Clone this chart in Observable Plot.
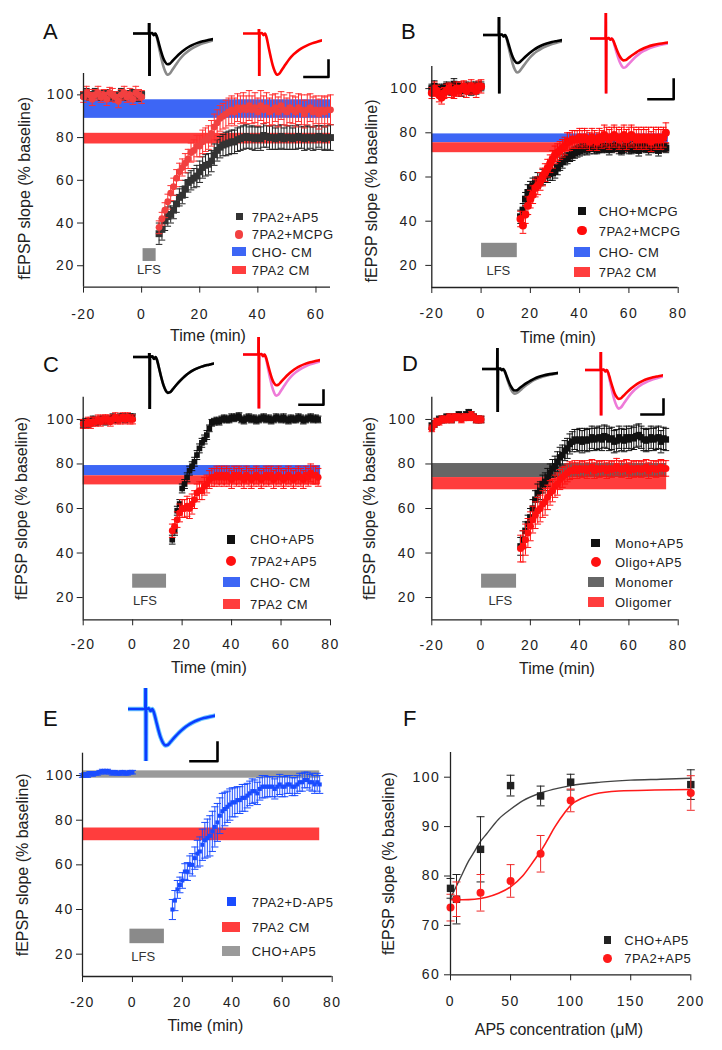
<!DOCTYPE html>
<html><head><meta charset="utf-8">
<script src="https://cdn.jsdelivr.net/npm/d3@7"></script>
<script src="https://cdn.jsdelivr.net/npm/@observablehq/plot@0.6"></script>
<style>
body{margin:0;background:#fff;}
#root{position:relative;width:722px;height:1050px;overflow:hidden;background:#fff;font-family:"Liberation Sans",Arial,Helvetica,sans-serif;color:#222;}
.letter{position:absolute;font-size:22px;line-height:22px;color:#111;}
.lg-text{position:absolute;font-size:13px;line-height:15px;letter-spacing:0.5px;color:#222;white-space:nowrap;}
svg [aria-label^="x-axis"] text, svg [aria-label^="y-axis"] text{letter-spacing:1.5px;}
</style></head><body><div id="root"></div>
<script>
// ---------------- DATA ----------------
const timeBase = [-20,-19,-18,-17,-16,-15,-14,-13,-12,-11,-10,-9,-8,-7,-6,-5,-4,-3,-2,-1,0];
const timePostA = [6,7,8,9,10,11,12,13,14,15,16,17,18,19,20,21,22,23,24,25,26,27,28,29,30,31,32,33,34,35,36,37,38,39,40,41,42,43,44,45,46,47,48,49,50,51,52,53,54,55,56,57,58,59,60,61,62,63,64,65];
const timePost = [16,17,18,19,20,21,22,23,24,25,26,27,28,29,30,31,32,33,34,35,36,37,38,39,40,41,42,43,44,45,46,47,48,49,50,51,52,53,54,55,56,57,58,59,60,61,62,63,64,65,66,67,68,69,70,71,72,73,74,75];

// Panel A
const aAp5Base = [100,101,99,100,101,100,99,100,101,100,99,100,100,101,99,100,100,101,100,99,100];
const aAp5BaseErr = [1.5,2,1.5,1.5,2,1.5,1.5,2,1.5,1.5,2,1.5,1.5,2,1.5,1.5,2,1.5,1.5,2,1.5];
const aMcpgBase = [99,101,100,98,100,101,99,100,98,101,100,99,97,100,101,99,100,98,101,100,99];
const aMcpgBaseErr = [2.5,3,2.5,3,2.5,3,2.5,2.5,3,2.5,3,2.5,3,2.5,3,2.5,3,2.5,3,2.5,3];
const aAp5Post = [35,37,41,43,44,46,49,52,53,56, 59,60,61,62,64,66,67,67.5,69,72, 74,75.5,76.5,77,77.5,78,78,79,79.5,80, 80.5,80,80,79.5,80,79.5,81,80.5,80,80, 79.5,80,80.5,79.5,80,80,79.5,80,80.5,80, 79.5,80,80,79.5,80,80.5,80,79.5,80,80];
const aAp5PostErr = [5,5,4.5,4.5,4,4,4,4,4,4, 4.5,4.5,4.5,5,5,5,5,5,5,5, 5,5,5,5.5,5.5,5.5,5.5,5.5,5.5,5.5, 5.5,5,5.5,5.5,5,5.5,5.5,5,5.5,5.5, 5,5.5,5.5,5,5.5,5.5,5,5.5,5.5,5, 5.5,5.5,5,5.5,5.5,5,5.5,5.5,5.5,6];
const aMcpgPost = [38,42,46,50,54,57,61,64,66,68, 70,73,74,76,76,78,79,80,82,85, 87,89,90,91,92,93,92,94,93,94, 93,95,93,94,92,95,93,94,92,93, 94,92,95,93,92,94,93,92,94,93, 91,93,94,92,93,91,93,92,93,93];
const aMcpgPostErr = [3,3,3.5,3.5,3.5,4,4,4,4,4.5, 4.5,4.5,5,5,5,5.5,5.5,5.5,6,6, 6,6,6,6.5,6.5,6.5,6.5,6.5,6.5,7, 6.5,7,6.5,7,6.5,7,6.5,7,6.5,7, 6.5,7,6.5,7,6.5,7,6.5,7,6.5,7, 6.5,7,6.5,7,6.5,7,6.5,7,6.5,7];

// Panel B
const bChoBase = [100,101,99,100,99,100,101,100,99,102,100,101,99,100,101,100,99,101,100,101,101];
const bChoBaseErr = [2,2.5,2,2,2.5,2,2,2.5,2,2.5,2,2,2.5,2,2,2.5,2,2,2.5,2,2];
const b7pa2Base = [98,100,99,97,96,98,99,100,99,98,100,99,100,101,99,100,101,100,99,101,101];
const b7pa2BaseErr = [2.5,3,2.5,3,3,2.5,3,2.5,3,2.5,3,2.5,3,2.5,3,2.5,3,2.5,3,2.5,3];
const bChoPost = [42,45,50,53,55,56,57,58.5,59,60, 60.5,61,61.5,62,62.5,64,66,67,68,68.5, 69.5,70,71,71.5,72,72.5,73,72.5,73,74, 73,72.5,73.5,73,74,73,72.5,73,74,73.5, 73,72,73.5,74,73,72.5,73.5,73,72,73.5, 74,73,72.5,73,74,73,72,73.5,74,73];
const bChoPostErr = [3,3,3,3.5,3,3.5,3,3.5,3,3.5, 3,3.5,3,3.5,3,3,3,3,2.5,2.5, 2.5,2.5,2.5,2.5,2.5,2.5,2.5,2.5,2.5,2.5, 2.5,2,2.5,2,2.5,2,2.5,2,2.5,2, 2.5,2,2.5,2,2.5,2,2.5,2,2.5,2, 2.5,2,2.5,2,2.5,2,2.5,2,2.5,2];
const b7pa2Post = [41,38,43,47,50,52,55,56,58,60, 62,64,66,68,70,71,72,73,74,76, 76,77,77,77,78,77,78,77,76,78, 77,76,78,77,79,78,77,78,79,78, 77,78,79,77,78,79,78,77,78,77, 78,77,78,76,78,77,78,77,78,80];
const b7pa2PostErr = [3.5,3.5,4,4,4,4,4,4,4,4, 4,4,4,4,4,4,4,4,4,4, 4,4,4,4,4,4,4,4,4,4, 4,4,4,4,4.5,4.5,4.5,4.5,4.5,4.5, 4.5,4.5,4.5,4.5,4.5,4.5,4.5,4.5,4.5,4.5, 4.5,4.5,4.5,4.5,4.5,4.5,4.5,4.5,4.5,4.5];

// Panel C
const cChoBase = [98,99,98,99,100,99,99,100,100,99,100,100,101,100,100,101,101,100,101,101,101];
const cChoBaseErr = [1.5,1.5,1.5,1.5,1.5,1.5,1.5,1.5,1.5,1.5,1.5,1.5,1.5,1.5,1.5,1.5,1.5,1.5,1.5,1.5,1.5];
const c7pa2Base = [98,98,99,98,99,99,100,99,100,100,100,99,100,101,100,100,101,100,101,100,100];
const c7pa2BaseErr = [2,2,2,2,2,2,2,2,2,2,2,2,2,2,2,2,2,2,2,2,2];
const cChoPost = [46,50,59,62,69,71,74,77,79,81, 84,87,89.5,91,93,96,98.5,99,99.5,99, 100,100.5,100,100,101,100.5,101,101.5,100,99.5, 100.5,101,100,100.5,99.5,100,100.5,101,100,100.5, 99.5,100,101,100.5,100,101,100,99.5,100.5,100, 100,101,100.5,99.5,100,100.5,101,100,100.5,100];
const cChoPostErr = [2,2,2,2,2,2,2,2,2,2, 2,2,2,2,2,1.5,1.5,1.5,1.5,1.5, 1.5,1.5,1.5,1.5,1.5,1.5,1.5,1.5,1.5,1.5, 1.5,1.5,1.5,1.5,1.5,1.5,1.5,1.5,1.5,1.5, 1.5,1.5,1.5,1.5,1.5,1.5,1.5,1.5,1.5,1.5, 1.5,1.5,1.5,1.5,1.5,1.5,1.5,1.5,1.5,1.5];
const c7pa2Post = [50,52,55,58,60,60,61,60,62,64, 67,68,68,70,71,73,74,74,75,74, 75,74,75,74,73,75,74,75,74,73, 75,74,73,74,75,74,73,74,75,74, 75,73,74,75,74,73,74,75,74,73, 74,75,74,73,75,74,76,75,75,74];
const c7pa2PostErr = [3,3,3.5,4,4,4,4.5,4.5,4.5,4, 4,4,4,4,4,4,4,4,4,4, 4,4,4,4,4,4,4,4,4,4, 4,4,4,4,4,4,4,4,4,4, 4,4,4,4,4,4,4,4,4,4, 4,4,4,4,4,4,4,4,4,4];

// Panel D
const dMonoBase = [97,98,99,100,100,100,101,101,100,101,101,102,101,101,102,103,102,101,100,100,100];
const dMonoBaseErr = [1.5,1.5,1.5,1.5,1.5,1.5,1.5,1.5,1.5,1.5,1.5,1.5,1.5,1.5,1.5,1.5,1.5,1.5,1.5,1.5,1.5];
const dOligoBase = [96,98,99,99,100,100,100,101,100,101,101,101,100,101,101,101,102,101,100,100,100];
const dOligoBaseErr = [1.5,1.5,1.5,1.5,1.5,1.5,1.5,1.5,1.5,1.5,1.5,1.5,1.5,1.5,1.5,1.5,1.5,1.5,1.5,1.5,1.5];
const dMonoPost = [43,46,50,53,56,60,64,67,68,71, 72,74,76,78,79,81,83,84,86,87, 89,90,91,90.5,91,90,91,90.5,91,92, 91,91.5,92,91,92.5,92,91,91.5,90,90.5, 92,91,90.5,92,91,92,91.5,92.5,93,92, 91,90.5,91,92,91,91.5,92,90,91.5,91];
const dMonoPostErr = [4,4,4,4,4,4,4,4,4,4, 4,4,4,4,4.5,4.5,4.5,4.5,4.5,4.5, 4.5,4.5,4.5,5,5,5,5,5,5,5, 5,5,5,5,5,5,5,5,5,5, 5,5,5,5,5,5,5,5,5,5, 5,5,5,5,5,5,5,5,5,5];
const dOligoPost = [42,43,46,49,52,55,57,59,60,62, 63,65,67,68,70,71,73,74,75,76, 77,77,78,77,78,77.5,78,77,78,78.5, 77,78,77.5,78,78,77,78,77.5,78,79, 78,77.5,78,78.5,77,78,77.5,78,78,77.5, 78,78.5,77,78,78,77.5,78,78.5,78,78];
const dOligoPostErr = [6,7,7,6.5,6.5,6,6,6,6,6, 6,5.5,5.5,5,5,5,4.5,4.5,4,4, 4,3.5,3.5,3.5,3.5,3.5,3.5,3.5,3.5,3.5, 3.5,3.5,3.5,3.5,3.5,3.5,3.5,3.5,3.5,3.5, 3.5,3.5,3.5,3.5,3.5,3.5,3.5,3.5,3.5,3.5, 3.5,3.5,3.5,3.5,3.5,3.5,3.5,3.5,3.5,3.5];

// Panel E
const eBase = [100,100.5,100,101,100.5,101,101,101.5,102,101.5,102,101.5,101,101.5,101,101,101.5,101,101,101.5,101.5];
const eBaseErr = [0.8,0.8,0.8,0.8,0.8,0.8,0.8,0.8,0.8,0.8,0.8,0.8,0.8,0.8,0.8,0.8,0.8,0.8,0.8,0.8,0.8];
const ePost = [40,44,49,51,53,57,57,60,60,63, 65,66,69,71,72,73,75,77,79,82, 84,85,86,87,88,88,89,89,90,90, 91,92,93,93,92,94,95,95,95,95, 95,94,95,96,95,95,96,96,95,95, 96,97,97,98,98,97,97,96,97,96];
const ePostErr = [4.5,4.5,4,3.5,3.5,3.5,4,4,5,5, 6,6.5,7,8,8.5,9,9,9,8.5,8, 8,7.5,7,7,6.5,6.5,6,6,6,6, 5.5,5.5,5.5,5,5,5,5,5,4.5,4.5, 4.5,4.5,4.5,4.5,4.5,4.5,4,4,4,4, 4,4,4,3.5,3.5,3.5,4,4,4,4];

// Panel F
const fConc = [0,5,25,50,75,100,200];
const fChoMean = [77.5,75.3,85.4,98.3,96.2,99,98.5];
const fChoErr = [2,5,6.6,2.1,2,1.6,3];
const f7pa2Mean = [73.6,75.3,76.6,79,84.5,95.3,96.8];
const f7pa2Err = [2.7,3.5,3.7,3.3,3.7,2.3,3.5];
const fitChoConc = [0,5,10,15,20,25,30,40,50,60,75,90,100,125,150,175,200];
const fitChoVal = [75.5,78,80.5,83,85,87,88.5,91.5,93.5,95.2,96.8,97.8,98.3,99,99.4,99.6,99.8];
const fit7pa2Conc = [0,10,20,30,40,50,60,70,75,80,87,95,100,110,120,140,170,200];
const fit7pa2Val = [75.2,75.2,75.3,75.7,76.5,77.8,80,83.3,85,87,90,92.8,94.3,95.8,96.6,97.2,97.4,97.5];

// Bands (mean level ranges of conditioned-medium controls) and LFS periods
const bandLabelsA = ["CHO- CM","7PA2 CM"], bandLoA = [89,77], bandHiA = [97.7,82], bandEndA = 65;
const bandLabelsB = ["CHO- CM","7PA2 CM"], bandLoB = [75.5,71], bandHiB = [79.5,75.5], bandEndB = 76;
const bandLabelsC = ["CHO- CM","7PA2 CM"], bandLoC = [74.7,70.6], bandHiC = [79.3,74.7], bandEndC = 76;
const bandLabelsD = ["Monomer","Oligomer"], bandLoD = [73.9,68.4], bandHiD = [80.2,73.9], bandEndD = 75.3;
const bandLabelsE = ["CHO+AP5","7PA2 CM"], bandLoE = [98.8,70.8], bandHiE = [102.1,76.5], bandEndE = 75;
const lfsStart = [0.5,0.2,0,0.2,-1], lfsEnd = [5,14.7,13.7,14.4,12.8], lfsLo = [22,23.5,24.2,24.2,24.7], lfsHi = [28,30,30.5,30.5,31.2];
const lfsTextT = [2.5,7,5,7.8,4.3], lfsTextY = [18,17.4,18.5,18.5,18.8];

// Tick labels
const xTicksA = [-20,0,20,40,60];
const xTicksTime = [-20,0,20,40,60,80];
const yTicksTime = [20,40,60,80,100];
const xTicksF = [0,50,100,150,200];
const yTicksF = [60,70,80,90,100];

// Inset fEPSP waveforms (time units, relative amplitude)
const traceTime = [0,5.8,5.9,6.0,6.1,7.0,7.6,8.2,8.8,9.5,10.3,11.1,11.9,12.7,13.6,14.6,16,17.5,19,20.5,22,24,26,28,30];
const traceSmall = [0,0,4,-8,0,0.05,-0.15,0.0,-0.3,-0.9,-1.6,-2.2,-2.6,-2.8,-2.75,-2.5,-2.15,-1.8,-1.5,-1.25,-1.05,-0.85,-0.7,-0.6,-0.5];
const traceMid = [0,0,4,-8,0,0.05,-0.15,0.0,-0.35,-1.05,-1.85,-2.55,-3.0,-3.2,-3.1,-2.85,-2.45,-2.05,-1.7,-1.42,-1.2,-0.98,-0.8,-0.68,-0.56];
const traceLarge = [0,0,4,-8,0,0.05,-0.15,0.0,-0.4,-1.2,-2.1,-2.9,-3.45,-3.75,-3.65,-3.3,-2.8,-2.3,-1.9,-1.6,-1.35,-1.1,-0.9,-0.75,-0.62];
const scaleBarX = [0,1,1];
const scaleBarY = [0,0,1];

// ---------------- DRAWING ----------------
const FONT = '"Liberation Sans", Arial, Helvetica, sans-serif';
const root = document.getElementById("root");
const BLUE = "#3d66f5", REDBAND = "#ff3d3d", GRAYBAND = "#666666", LIGHTBAND = "#9a9a9a", LFSGRAY = "#8a8a8a";

function place(el, left, top) {
  el.style.position = "absolute"; el.style.left = left + "px"; el.style.top = top + "px";
  root.appendChild(el);
}
const hbar = {draw(ctx, size) { const w = Math.sqrt(size / Math.PI); ctx.moveTo(-w, 0); ctx.lineTo(w, 0); }};
function rows(times, vals, errs) { return times.map((t, i) => ({t, v: vals[i], e: errs ? errs[i] : 0})); }

function seriesMarks(data, s) {
  const bc = s.barColor || s.color;
  return [
    Plot.ruleX(data, {x: "t", y1: d => d.v - d.e, y2: d => d.v + d.e, stroke: bc, strokeWidth: 1}),
    Plot.dot(data, {x: "t", y: d => d.v + d.e, symbol: hbar, r: s.cap, stroke: bc, strokeWidth: 1, fill: "none"}),
    Plot.dot(data, {x: "t", y: d => d.v - d.e, symbol: hbar, r: s.cap, stroke: bc, strokeWidth: 1, fill: "none"}),
    Plot.dot(data, {x: "t", y: "v", symbol: s.symbol, r: s.r, fill: s.color, stroke: "none"})
  ];
}

function panel(cfg) {
  const g = cfg.geom;
  const marks = [];
  if (cfg.bands) cfg.bands.forEach(b => marks.push(Plot.rect([b], {x1: d => d.x1, x2: d => d.x2, y1: d => d.lo, y2: d => d.hi, fill: b.color})));
  if (cfg.lfs) {
    marks.push(Plot.rect([cfg.lfs], {x1: d => d.x1, x2: d => d.x2, y1: d => d.lo, y2: d => d.hi, fill: LFSGRAY}));
    marks.push(Plot.text([cfg.lfs], {x: d => d.tx, y: d => d.ty, text: () => "LFS", fontSize: 13, fill: "#333"}));
  }
  if (cfg.lines) cfg.lines.forEach(l => marks.push(Plot.line(l.data, {x: "t", y: "v", stroke: l.color, strokeWidth: l.width, curve: "monotone-x"})));
  cfg.series.forEach(s => s.parts.forEach(p => marks.push(...seriesMarks(p, s))));
  marks.push(Plot.ruleX([cfg.xDomain[0]], {stroke: "#222", strokeWidth: 1.3}));
  marks.push(Plot.ruleY([cfg.yDomain[0]], {stroke: "#222", strokeWidth: 1.3}));
  marks.push(Plot.text([cfg.xLabel], {frameAnchor: "bottom", dy: g.xlDy, dx: g.xlDx, fontSize: 16, lineAnchor: "middle", textAnchor: "middle", fill: "#222"}));
  marks.push(Plot.text([cfg.yLabel], {frameAnchor: "left", rotate: -90, dx: g.ylDx, dy: g.ylDy, fontSize: 16, lineAnchor: "middle", textAnchor: "middle", fill: "#222"}));
  const svg = Plot.plot({
    width: g.w, height: g.h, marginLeft: g.mL, marginRight: g.mR, marginTop: g.mT, marginBottom: g.mB,
    x: {domain: cfg.xDomain, ticks: cfg.xTicks, tickSize: 6, tickPadding: g.xPad, tickFormat: d => String(d), label: null},
    y: {domain: cfg.yDomain, ticks: cfg.yTicks, tickSize: 6, tickPadding: g.yPad, tickFormat: d => String(d), label: null},
    style: {background: "transparent", fontFamily: FONT, fontSize: "14px", color: "#222", overflow: "visible"},
    marks
  });
  place(svg, g.left, g.top);
}

function bandsOf(lows, highs, end, colors) { return lows.map((lo, i) => ({x1: -20, x2: end, lo, hi: highs[i], color: colors[i]})); }
function lfsOf(i) { return {x1: lfsStart[i], x2: lfsEnd[i], lo: lfsLo[i], hi: lfsHi[i], tx: lfsTextT[i], ty: lfsTextY[i]}; }

function tracePlot(sp) {
  const yDomain = [-(sp.bottom - sp.y0) / sp.k, (sp.y0 - sp.top) / sp.k];
  const svg = Plot.plot({
    width: sp.x1 - sp.x0, height: sp.bottom - sp.top, margin: 0,
    x: {domain: [0, 30], axis: null}, y: {domain: yDomain, axis: null},
    style: {background: "transparent", overflow: "visible"},
    marks: sp.series.map(s => Plot.line(rows(traceTime, s.values), {x: "t", y: "v", stroke: s.color, strokeWidth: s.width || 2.6, curve: "monotone-x", clip: true}))
  });
  place(svg, sp.x0, sp.top);
}
function scaleBar(sb) {
  const pts = scaleBarX.map((x, i) => ({x, y: scaleBarY[i]}));
  const svg = Plot.plot({
    width: sb.x - sb.left, height: sb.bottom - sb.top, margin: 0,
    x: {domain: [0, 1], axis: null}, y: {domain: [0, 1], axis: null},
    style: {background: "transparent", overflow: "visible"},
    marks: [Plot.line(pts, {x: "x", y: "y", stroke: "#000", strokeWidth: 2.6, strokeLinecap: "square"})]
  });
  place(svg, sb.left, sb.top);
}
function legend(items, o) {
  items.forEach((it, i) => {
    const y = o.rowsY[i];
    let w, h, radius = "0";
    if (it.kind === "square") { w = h = o.sq; }
    else if (it.kind === "circle") { w = h = o.circ; radius = "50%"; }
    else { w = o.barW; h = o.barH; }
    const sw = document.createElement("div");
    sw.style.cssText = `position:absolute;left:${o.cx - w / 2}px;top:${y - h / 2}px;width:${w}px;height:${h}px;background:${it.color};border-radius:${radius}`;
    root.appendChild(sw);
    const tx = document.createElement("div");
    tx.className = "lg-text"; tx.textContent = it.label;
    tx.style.left = o.textLeft + "px"; tx.style.top = (y - 7.1) + "px";
    root.appendChild(tx);
  });
}
function letter(ch, x, baseline) {
  const d = document.createElement("div");
  d.className = "letter"; d.textContent = ch;
  d.style.left = x + "px"; d.style.top = (baseline - 18.6) + "px";
  root.appendChild(d);
}

const yLab = "fEPSP slope (% baseline)";
const xLab = "Time (min)";

// Panel A
panel({
  geom: {left: 0, top: 0, w: 361, h: 340, mL: 83, mR: 31, mT: 73, mB: 53.4, xPad: 15.5, yPad: 2.8, xlDy: 48.5, xlDx: 1, ylDx: -59, ylDy: 8},
  xDomain: [-20, 65], yDomain: [10, 110], xTicks: xTicksA, yTicks: yTicksTime, xLabel: xLab, yLabel: yLab,
  bands: bandsOf(bandLoA, bandHiA, bandEndA, [BLUE, REDBAND]), lfs: lfsOf(0),
  series: [
    {parts: [rows(timeBase, aAp5Base, aAp5BaseErr), rows(timePostA, aAp5Post, aAp5PostErr)], color: "#333", barColor: "#222", symbol: "square", r: 3.9, cap: 3.3},
    {parts: [rows(timeBase, aMcpgBase, aMcpgBaseErr), rows(timePostA, aMcpgPost, aMcpgPostErr)], color: "#f24040", barColor: "#ff3030", symbol: "circle", r: 3.4, cap: 3.3}
  ]
});
// Panel B
panel({
  geom: {left: 361, top: 0, w: 361, h: 340, mL: 70.3, mR: 44.3, mT: 66, mB: 53, xPad: 15, yPad: 7.8, xlDy: 50, xlDx: 3, ylDx: -59.5, ylDy: 14},
  xDomain: [-20, 80], yDomain: [10, 110], xTicks: xTicksTime, yTicks: yTicksTime, xLabel: xLab, yLabel: yLab,
  bands: bandsOf(bandLoB, bandHiB, bandEndB, [BLUE, REDBAND]), lfs: lfsOf(1),
  series: [
    {parts: [rows(timeBase, bChoBase, bChoBaseErr), rows(timePost, bChoPost, bChoPostErr)], color: "#111", symbol: "square", r: 3.9, cap: 3.3},
    {parts: [rows(timeBase, b7pa2Base, b7pa2BaseErr), rows(timePost, b7pa2Post, b7pa2PostErr)], color: "#ff0a0a", symbol: "circle", r: 4, cap: 3.3}
  ]
});
// Panel C
panel({
  geom: {left: 0, top: 340, w: 361, h: 350, mL: 82.7, mR: 31, mT: 56.7, mB: 70.7, xPad: 13, yPad: 2.5, xlDy: 48, xlDx: 2, ylDx: -61.7, ylDy: 0},
  xDomain: [-20, 80], yDomain: [10, 110], xTicks: xTicksTime, yTicks: yTicksTime, xLabel: xLab, yLabel: yLab,
  bands: bandsOf(bandLoC, bandHiC, bandEndC, [BLUE, REDBAND]), lfs: lfsOf(2),
  series: [
    {parts: [rows(timeBase, cChoBase, cChoBaseErr), rows(timePost, cChoPost, cChoPostErr)], color: "#111", symbol: "square", r: 3.2, cap: 3.3},
    {parts: [rows(timeBase, c7pa2Base, c7pa2BaseErr), rows(timePost, c7pa2Post, c7pa2PostErr)], color: "#ff1010", symbol: "circle", r: 3.4, cap: 3.3}
  ]
});
// Panel D
panel({
  geom: {left: 361, top: 340, w: 361, h: 350, mL: 70.3, mR: 44.3, mT: 56.7, mB: 70.7, xPad: 14.5, yPad: 9.5, xlDy: 48.7, xlDx: 2, ylDx: -62.3, ylDy: 0},
  xDomain: [-20, 80], yDomain: [10, 110], xTicks: xTicksTime, yTicks: yTicksTime, xLabel: xLab, yLabel: yLab,
  bands: bandsOf(bandLoD, bandHiD, bandEndD, [GRAYBAND, REDBAND]), lfs: lfsOf(3),
  series: [
    {parts: [rows(timeBase, dMonoBase, dMonoBaseErr), rows(timePost, dMonoPost, dMonoPostErr)], color: "#111", symbol: "square", r: 3.6, cap: 3.3},
    {parts: [rows(timeBase, dOligoBase, dOligoBaseErr), rows(timePost, dOligoPost, dOligoPostErr)], color: "#ff1010", symbol: "circle", r: 3.5, cap: 3.3}
  ]
});
// Panel E
panel({
  geom: {left: 0, top: 690, w: 361, h: 360, mL: 82, mR: 29.3, mT: 62.7, mB: 74, xPad: 14.5, yPad: 2.8, xlDy: 49, xlDx: -2, ylDx: -59.5, ylDy: 0},
  xDomain: [-20, 80], yDomain: [10, 110], xTicks: xTicksTime, yTicks: yTicksTime, xLabel: xLab, yLabel: yLab,
  bands: bandsOf(bandLoE, bandHiE, bandEndE, [LIGHTBAND, REDBAND]), lfs: lfsOf(4),
  series: [
    {parts: [rows(timeBase, eBase, eBaseErr), rows(timePost, ePost, ePostErr)], color: "#1a4cff", symbol: "square", r: 2.3, cap: 3.6}
  ]
});
// Panel F
panel({
  geom: {left: 361, top: 690, w: 361, h: 360, mL: 89, mR: 31.7, mT: 62, mB: 75.7, xPad: 15.5, yPad: 4.2, xlDy: 54.7, xlDx: -11.7, ylDx: -62, ylDy: 0},
  xDomain: [0, 200], yDomain: [60, 105], xTicks: xTicksF, yTicks: yTicksF, xLabel: "AP5 concentration (\u03BCM)", yLabel: yLab,
  lines: [
    {data: rows(fitChoConc, fitChoVal), color: "#444", width: 1.4},
    {data: rows(fit7pa2Conc, fit7pa2Val), color: "#ff1a1a", width: 1.6}
  ],
  series: [
    {parts: [rows(fConc, fChoMean, fChoErr)], color: "#222", symbol: "square", r: 4.2, cap: 4},
    {parts: [rows(fConc, f7pa2Mean, f7pa2Err)], color: "#ff1a1a", barColor: "#ee2a2a", symbol: "circle", r: 4, cap: 4}
  ]
});

// Inset traces
tracePlot({x0: 133, x1: 213, y0: 33, top: 23, bottom: 76, k: 11, series: [{values: traceLarge, color: "#8a8a8a"}, {values: traceSmall, color: "#000"}]});
tracePlot({x0: 243, x1: 322, y0: 33, top: 29, bottom: 76, k: 11, series: [{values: traceLarge, color: "#ff0000"}]});
tracePlot({x0: 483, x1: 562, y0: 34, top: 16.5, bottom: 93, k: 10, series: [{values: traceLarge, color: "#8a8a8a"}, {values: traceSmall, color: "#000"}]});
tracePlot({x0: 590, x1: 668, y0: 38, top: 13, bottom: 93.5, k: 7.8, series: [{values: traceLarge, color: "#ee7ad8"}, {values: traceSmall, color: "#ff0000"}]});
tracePlot({x0: 133, x1: 214, y0: 356.5, top: 353, bottom: 409, k: 12.8, series: [{values: traceSmall, color: "#8a8a8a"}, {values: traceSmall, color: "#000"}]});
tracePlot({x0: 243, x1: 320, y0: 354, top: 337, bottom: 408.5, k: 11, series: [{values: traceLarge, color: "#ee7ad8"}, {values: traceSmall, color: "#ff0000"}]});
tracePlot({x0: 482, x1: 558, y0: 368.5, top: 348, bottom: 412, k: 7.7, series: [{values: traceMid, color: "#8a8a8a"}, {values: traceSmall, color: "#000"}]});
tracePlot({x0: 585, x1: 663, y0: 369, top: 351.5, bottom: 415, k: 10.3, series: [{values: traceLarge, color: "#ee7ad8"}, {values: traceSmall, color: "#ff0000"}]});
tracePlot({x0: 128, x1: 215, y0: 708.5, top: 688, bottom: 761, k: 13, series: [{values: traceSmall, color: "#6cc8ff", width: 4.5}, {values: traceSmall, color: "#0a3cff", width: 2.6}]});

// Scale bars
scaleBar({x: 328, top: 60, bottom: 76.5, left: 304});
scaleBar({x: 673.5, top: 78.5, bottom: 98.3, left: 648.3});
scaleBar({x: 323.3, top: 390, bottom: 404.3, left: 299.3});
scaleBar({x: 662.5, top: 399, bottom: 414, left: 640.5});
scaleBar({x: 217, top: 741.7, bottom: 760.5, left: 190});

// Legends
legend([
  {label: "7PA2+AP5", kind: "square", color: "#333"},
  {label: "7PA2+MCPG", kind: "circle", color: "#f24040"},
  {label: bandLabelsA[0], kind: "bar", color: BLUE},
  {label: bandLabelsA[1], kind: "bar", color: REDBAND}
], {cx: 239, textLeft: 251.7, rowsY: [216.7, 234.3, 251.7, 270], sq: 7, circ: 8.5, barW: 14, barH: 8.5});
legend([
  {label: "CHO+MCPG", kind: "square", color: "#111"},
  {label: "7PA2+MCPG", kind: "circle", color: "#ff0a0a"},
  {label: bandLabelsB[0], kind: "bar", color: BLUE},
  {label: bandLabelsB[1], kind: "bar", color: REDBAND}
], {cx: 582, textLeft: 598.7, rowsY: [210.7, 230.7, 251.7, 271.7], sq: 8, circ: 9.5, barW: 16, barH: 10});
legend([
  {label: "CHO+AP5", kind: "square", color: "#111"},
  {label: "7PA2+AP5", kind: "circle", color: "#ff1010"},
  {label: bandLabelsC[0], kind: "bar", color: BLUE},
  {label: bandLabelsC[1], kind: "bar", color: REDBAND}
], {cx: 231, textLeft: 250, rowsY: [539.3, 560.8, 582.3, 604.3], sq: 8.5, circ: 10, barW: 17, barH: 10});
legend([
  {label: "Mono+AP5", kind: "square", color: "#111"},
  {label: "Oligo+AP5", kind: "circle", color: "#ff1010"},
  {label: bandLabelsD[0], kind: "bar", color: GRAYBAND},
  {label: bandLabelsD[1], kind: "bar", color: REDBAND}
], {cx: 595.5, textLeft: 615, rowsY: [542.8, 562.2, 582.3, 601.7], sq: 8.5, circ: 10, barW: 16, barH: 10});
legend([
  {label: "7PA2+D-AP5", kind: "square", color: "#1a4cff"},
  {label: bandLabelsE[1], kind: "bar", color: REDBAND},
  {label: bandLabelsE[0], kind: "bar", color: LIGHTBAND}
], {cx: 231, textLeft: 251.7, rowsY: [901.7, 927.3, 950.7], sq: 9, circ: 10, barW: 18, barH: 10});
legend([
  {label: "CHO+AP5", kind: "square", color: "#222"},
  {label: "7PA2+AP5", kind: "circle", color: "#ff1a1a"}
], {cx: 607.5, textLeft: 624.3, rowsY: [940, 958.3], sq: 7.5, circ: 9, barW: 16, barH: 10});

// Panel letters
letter("A", 43, 40); letter("B", 401, 40); letter("C", 43, 373);
letter("D", 402, 372); letter("E", 43, 727); letter("F", 403, 727);
</script></body></html>
